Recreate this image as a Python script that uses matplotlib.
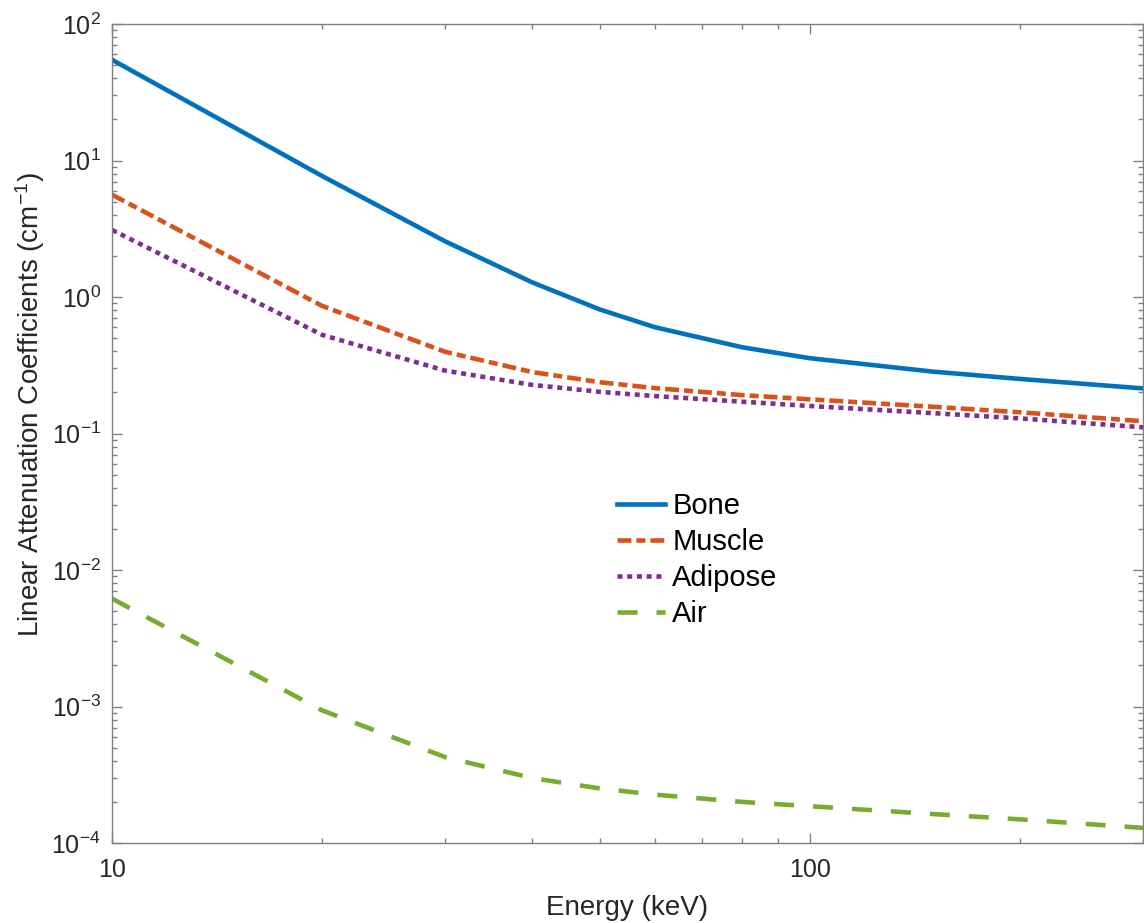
import matplotlib
matplotlib.use("Agg")
from matplotlib import pyplot as plt
from matplotlib.ticker import FixedLocator, FixedFormatter, NullFormatter

# energies (keV) and linear attenuation coefficients (cm^-1)
energia = [10, 20, 30, 40, 50, 60, 80, 100, 150, 200, 300]
hueso = [54.7, 7.7, 2.56, 1.28, 0.81, 0.60, 0.428, 0.356, 0.284, 0.251, 0.214]
musculo = [5.62, 0.86, 0.397, 0.282, 0.2375, 0.215, 0.191, 0.178, 0.157, 0.143, 0.123]
adiposo = [3.1, 0.528, 0.289, 0.227, 0.202, 0.188, 0.171, 0.159, 0.141, 0.129, 0.111]
aire = [6.17e-3, 9.37e-4, 4.26e-4, 2.99e-4, 2.51e-4, 2.26e-4, 2.00e-4, 1.86e-4, 1.63e-4, 1.49e-4, 1.29e-4]
nombres = ["Bone", "Muscle", "Adipose", "Air"]
xticks = [10, 100]
xtick_labels = ["10", "100"]

plt.rcParams['font.family'] = ['Liberation Sans', 'DejaVu Sans']
plt.rcParams['mathtext.fontset'] = 'custom'
plt.rcParams['mathtext.rm'] = 'Liberation Sans'
plt.rcParams['mathtext.it'] = 'Liberation Sans:italic'
plt.rcParams['axes.unicode_minus'] = False
plt.rcParams['lines.scale_dashes'] = False

fig = plt.figure(figsize=(11.44, 9.23), dpi=100)
ax = fig.add_axes([112/1144, 80/923, 1031/1144, 819/923])

gris = '#262626'
grosor = 3.3
ax.plot(energia, hueso, color='#0072BD', lw=grosor, label=nombres[0])
ax.plot(energia, musculo, color='#D95319', lw=grosor, dashes=[10, 3.6, 6.5, 3.6], label=nombres[1])
ax.plot(energia, adiposo, color='#7E2F8E', lw=grosor, dashes=[3.6, 3.4], label=nombres[2])
ax.plot(energia, aire, color='#77AC30', lw=grosor, dashes=[14.4, 13.7], label=nombres[3])

ax.set_xscale('log')
ax.set_yscale('log')
ax.set_xlim(10, 300)
ax.set_ylim(1e-4, 1e2)
ax.xaxis.set_major_locator(FixedLocator(xticks))
ax.xaxis.set_major_formatter(FixedFormatter(xtick_labels))
ax.xaxis.set_minor_formatter(NullFormatter())
ax.yaxis.set_minor_formatter(NullFormatter())

ax.set_xlabel("Energy (keV)", fontsize=20, color=gris, labelpad=9)
ax.set_ylabel(r"Linear Attenuation Coefficients (cm$^{-1}$)", fontsize=20, color=gris)
ax.yaxis.set_label_coords(-0.063, 0.535)

for s in ax.spines.values():
    s.set_color('#808080')
    s.set_linewidth(1)
ax.tick_params(which='both', direction='in', top=True, right=True, colors='#808080',
               labelcolor=gris, labelsize=18)
ax.tick_params(which='major', length=7, width=1)
ax.tick_params(which='minor', length=3.6, width=1)
ax.tick_params(axis='y', which='major', pad=8)
ax.tick_params(axis='x', which='major', pad=11)

ax.legend(loc='center left', bbox_to_anchor=(617/1144, 1 - 560/923),
          bbox_transform=fig.transFigure, frameon=False, fontsize=21,
          handlelength=1.65, handletextpad=0.25, labelspacing=0.27,
          borderpad=0, borderaxespad=0)

fig.savefig("out.png", dpi=100)
